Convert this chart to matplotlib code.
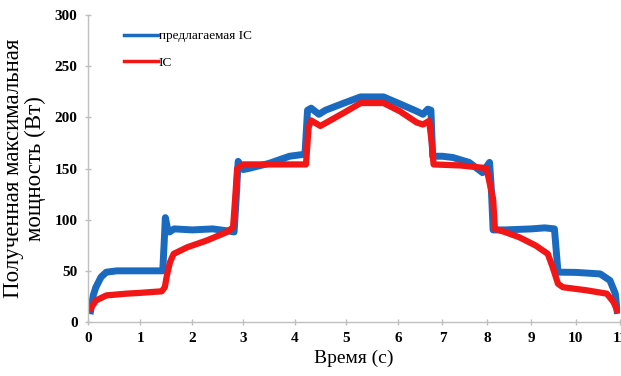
import numpy as np
import matplotlib
matplotlib.use("Agg")
import matplotlib.pyplot as plt

# Values
# proposed IC (blue)
x_prop = [0.05, 0.10, 0.15, 0.25, 0.35, 0.55, 1.00, 1.43, 1.46, 1.48, 1.52, 1.56,
          1.65, 2.00, 2.40, 2.70, 2.82, 2.86, 2.90, 3.00, 3.10, 3.50, 3.90, 4.20,
          4.25, 4.32, 4.47, 4.60, 4.96, 5.28, 5.72, 6.05, 6.42, 6.56, 6.67, 6.74,
          6.78, 7.00, 7.23, 7.60, 7.90, 8.06, 8.10, 8.14, 8.40, 9.00, 9.30, 9.52,
          9.56, 9.60, 10.00, 10.55, 10.77, 10.89, 10.93]
y_prop = [11, 26, 34, 44, 48.7, 50, 50, 50, 80, 102, 92, 88,
          91, 90, 91, 89, 88, 120, 157, 149, 150, 155, 162, 164,
          207, 209, 203, 207, 214, 220, 220, 213, 206, 203, 208, 207,
          162, 162, 160.8, 156, 146, 156, 130, 90, 90, 91, 92, 91,
          70, 48.7, 48.5, 47, 40.6, 27.7, 11.4]

# IC (red)
x_ic = [0.05, 0.15, 0.35, 0.73, 1.00, 1.41, 1.47, 1.51, 1.57, 1.64, 1.90, 2.28,
        2.67, 2.80, 2.84, 2.88, 3.00, 3.50, 4.00, 4.22, 4.27, 4.32, 4.50, 4.96,
        5.28, 5.72, 6.04, 6.42, 6.56, 6.70, 6.76, 6.80, 7.40, 7.99, 8.14, 8.18,
        8.40, 8.73, 9.10, 9.37, 9.48, 9.60, 9.71, 10.24, 10.70, 10.85, 10.93]
y_ic = [13, 21, 26, 27.7, 28.5, 30, 34, 45.5, 58.5, 66.6, 73, 79.6,
        87.7, 92.5, 120, 150, 154, 154, 154, 154, 190, 197, 191.6, 204.6,
        214, 214, 206, 195, 193, 196.5, 175, 154, 153, 150.4, 120, 91,
        88, 82.8, 74.7, 66.6, 53.6, 37.4, 34, 31, 27.7, 19.5, 11.4]

x_ticks = list(range(0, 12))
y_ticks = [0, 50, 100, 150, 200, 250, 300]
# pixel positions of the x ticks in the reference (the axis is not evenly spaced)
x_tick_px = [87, 139.5, 191.5, 242.5, 294, 345.5, 397.5, 442, 486.5, 531, 575.5, 620]

serif = ["Liberation Serif", "DejaVu Serif"]
blue = "#1A6ABF"
red = "#F21616"


def fwd(x):
    return np.interp(x, x_ticks, x_tick_px)


def inv(p):
    return np.interp(p, x_tick_px, x_ticks)


fig = plt.figure(figsize=(6.21, 3.76), dpi=100)
ax = fig.add_axes([0.1417, 0.1436, 0.857, 0.8164])
ax.set_xscale("function", functions=(fwd, inv))

ax.plot(x_prop, y_prop, color=blue, linewidth=5, solid_joinstyle="round",
        label="предлагаемая IC")
ax.plot(x_ic, y_ic, color=red, linewidth=4.5, solid_joinstyle="round", label="IC")

ax.set_xlim(0, 11)
ax.set_ylim(0, 300)
ax.set_xticks(x_ticks)
ax.set_yticks(y_ticks)
ax.set_xticklabels([str(t) for t in x_ticks], fontfamily=serif, fontweight="bold", fontsize=11)
ax.set_yticklabels([str(t) for t in y_ticks], fontfamily=serif, fontweight="bold", fontsize=11)
ax.xaxis.set_minor_locator(matplotlib.ticker.NullLocator())

for side in ["top", "right"]:
    ax.spines[side].set_visible(False)
for side in ["left", "bottom"]:
    ax.spines[side].set_color("#BFBFBF")
    ax.spines[side].set_linewidth(1)
ax.tick_params(axis="both", direction="inout", length=5, width=1, color="#BFBFBF", pad=5)

ax.set_xlabel("Время (с)", fontfamily=serif, fontsize=14, labelpad=3)
ax.set_ylabel("Полученная максимальная\nмощность (Вт)", fontfamily=serif, fontsize=16.5,
              linespacing=1.05, labelpad=6)

leg = ax.legend(loc="upper left", bbox_to_anchor=(0.045, 0.99), frameon=False,
                prop={"family": serif, "size": 9.5}, handlelength=2.6, handletextpad=0.05,
                labelspacing=1.1)
for line in leg.get_lines():
    line.set_linewidth(2.5)

fig.savefig("out.png", dpi=100)
